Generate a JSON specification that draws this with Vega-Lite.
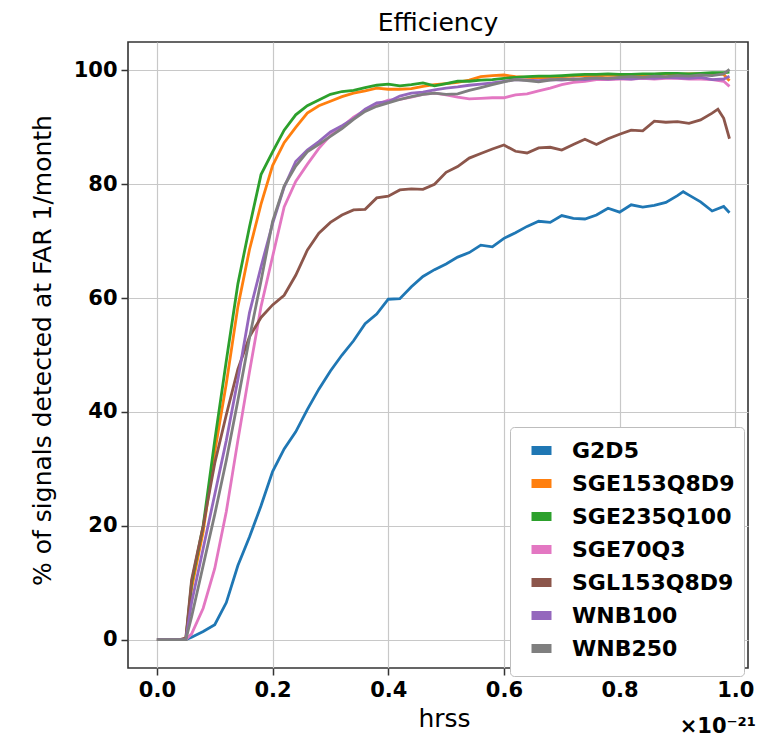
{
  "$schema": "https://vega.github.io/schema/vega-lite/v6.json",
  "width": 620,
  "height": 626,
  "autosize": {"type": "none"},
  "padding": {"left": 128, "top": 42, "right": 28, "bottom": 70},
  "background": "white",
  "title": {"text": "Efficiency", "fontSize": 25, "fontWeight": "normal", "font": "DejaVu Sans", "color": "#000", "baseline": "alphabetic", "offset": -14, "anchor": "middle"},
  "config": {
    "font": "DejaVu Sans",
    "view": {"stroke": "#333333", "strokeWidth": 1.6},
    "axis": {
      "domain": false,
      "grid": true,
      "gridColor": "#c8c8c8",
      "gridWidth": 1.2,
      "tickColor": "#333333",
      "tickWidth": 1.5,
      "tickSize": 7,
      "labelFontSize": 21,
      "labelFontWeight": "bold",
      "labelColor": "#000000",
      "labelPadding": 4,
      "titleFontSize": 25,
      "titleFontWeight": "normal",
      "titleColor": "#000000"
    }
  },
  "layer": [
    {
      "data": {"values": [
{"series":"G2D5","hrss":0,"pct":0},{"series":"G2D5","hrss":0.02,"pct":0},{"series":"G2D5","hrss":0.04,"pct":0},{"series":"G2D5","hrss":0.05,"pct":0},{"series":"G2D5","hrss":0.06,"pct":0.4},{"series":"G2D5","hrss":0.08,"pct":1.4},{"series":"G2D5","hrss":0.10,"pct":2.6},{"series":"G2D5","hrss":0.12,"pct":6.5},{"series":"G2D5","hrss":0.14,"pct":13},{"series":"G2D5","hrss":0.16,"pct":18},{"series":"G2D5","hrss":0.18,"pct":23.5},{"series":"G2D5","hrss":0.20,"pct":29.5},{"series":"G2D5","hrss":0.22,"pct":33.5},{"series":"G2D5","hrss":0.24,"pct":36.5},{"series":"G2D5","hrss":0.26,"pct":40.4},{"series":"G2D5","hrss":0.28,"pct":44},{"series":"G2D5","hrss":0.30,"pct":47.2},{"series":"G2D5","hrss":0.32,"pct":50},{"series":"G2D5","hrss":0.34,"pct":52.5},{"series":"G2D5","hrss":0.36,"pct":55.5},{"series":"G2D5","hrss":0.38,"pct":57.2},{"series":"G2D5","hrss":0.40,"pct":59.8},{"series":"G2D5","hrss":0.42,"pct":59.9},{"series":"G2D5","hrss":0.44,"pct":62},{"series":"G2D5","hrss":0.46,"pct":63.8},{"series":"G2D5","hrss":0.48,"pct":65},{"series":"G2D5","hrss":0.50,"pct":66},{"series":"G2D5","hrss":0.52,"pct":67.2},{"series":"G2D5","hrss":0.54,"pct":68},{"series":"G2D5","hrss":0.56,"pct":69.3},{"series":"G2D5","hrss":0.58,"pct":69},{"series":"G2D5","hrss":0.60,"pct":70.5},{"series":"G2D5","hrss":0.62,"pct":71.5},{"series":"G2D5","hrss":0.64,"pct":72.6},{"series":"G2D5","hrss":0.66,"pct":73.5},{"series":"G2D5","hrss":0.68,"pct":73.3},{"series":"G2D5","hrss":0.70,"pct":74.5},{"series":"G2D5","hrss":0.72,"pct":74},{"series":"G2D5","hrss":0.74,"pct":73.9},{"series":"G2D5","hrss":0.76,"pct":74.6},{"series":"G2D5","hrss":0.78,"pct":75.8},{"series":"G2D5","hrss":0.80,"pct":75.1},{"series":"G2D5","hrss":0.82,"pct":76.4},{"series":"G2D5","hrss":0.84,"pct":76},{"series":"G2D5","hrss":0.86,"pct":76.3},{"series":"G2D5","hrss":0.88,"pct":76.8},{"series":"G2D5","hrss":0.90,"pct":78},{"series":"G2D5","hrss":0.91,"pct":78.7},{"series":"G2D5","hrss":0.92,"pct":78.1},{"series":"G2D5","hrss":0.94,"pct":76.9},{"series":"G2D5","hrss":0.96,"pct":75.3},{"series":"G2D5","hrss":0.98,"pct":76.1},{"series":"G2D5","hrss":0.99,"pct":75},
{"series":"SGE153Q8D9","hrss":0,"pct":0},{"series":"SGE153Q8D9","hrss":0.02,"pct":0},{"series":"SGE153Q8D9","hrss":0.04,"pct":0},{"series":"SGE153Q8D9","hrss":0.05,"pct":0},{"series":"SGE153Q8D9","hrss":0.06,"pct":9},{"series":"SGE153Q8D9","hrss":0.08,"pct":19},{"series":"SGE153Q8D9","hrss":0.10,"pct":33},{"series":"SGE153Q8D9","hrss":0.12,"pct":45},{"series":"SGE153Q8D9","hrss":0.14,"pct":58.5},{"series":"SGE153Q8D9","hrss":0.16,"pct":68.5},{"series":"SGE153Q8D9","hrss":0.18,"pct":76.5},{"series":"SGE153Q8D9","hrss":0.20,"pct":83.3},{"series":"SGE153Q8D9","hrss":0.22,"pct":87.3},{"series":"SGE153Q8D9","hrss":0.24,"pct":90},{"series":"SGE153Q8D9","hrss":0.26,"pct":92.5},{"series":"SGE153Q8D9","hrss":0.28,"pct":93.8},{"series":"SGE153Q8D9","hrss":0.30,"pct":94.6},{"series":"SGE153Q8D9","hrss":0.32,"pct":95.4},{"series":"SGE153Q8D9","hrss":0.34,"pct":96},{"series":"SGE153Q8D9","hrss":0.36,"pct":96.4},{"series":"SGE153Q8D9","hrss":0.38,"pct":96.9},{"series":"SGE153Q8D9","hrss":0.40,"pct":96.7},{"series":"SGE153Q8D9","hrss":0.42,"pct":96.7},{"series":"SGE153Q8D9","hrss":0.44,"pct":96.8},{"series":"SGE153Q8D9","hrss":0.46,"pct":97.2},{"series":"SGE153Q8D9","hrss":0.48,"pct":97.5},{"series":"SGE153Q8D9","hrss":0.50,"pct":97.7},{"series":"SGE153Q8D9","hrss":0.52,"pct":97.9},{"series":"SGE153Q8D9","hrss":0.54,"pct":98.3},{"series":"SGE153Q8D9","hrss":0.56,"pct":98.9},{"series":"SGE153Q8D9","hrss":0.58,"pct":99.1},{"series":"SGE153Q8D9","hrss":0.60,"pct":99.2},{"series":"SGE153Q8D9","hrss":0.62,"pct":98.9},{"series":"SGE153Q8D9","hrss":0.64,"pct":98.8},{"series":"SGE153Q8D9","hrss":0.66,"pct":98.7},{"series":"SGE153Q8D9","hrss":0.68,"pct":98.7},{"series":"SGE153Q8D9","hrss":0.70,"pct":98.9},{"series":"SGE153Q8D9","hrss":0.72,"pct":99},{"series":"SGE153Q8D9","hrss":0.74,"pct":99.1},{"series":"SGE153Q8D9","hrss":0.76,"pct":99},{"series":"SGE153Q8D9","hrss":0.78,"pct":99.2},{"series":"SGE153Q8D9","hrss":0.80,"pct":99.1},{"series":"SGE153Q8D9","hrss":0.82,"pct":99.3},{"series":"SGE153Q8D9","hrss":0.84,"pct":99.2},{"series":"SGE153Q8D9","hrss":0.86,"pct":99.3},{"series":"SGE153Q8D9","hrss":0.88,"pct":99.4},{"series":"SGE153Q8D9","hrss":0.90,"pct":99.3},{"series":"SGE153Q8D9","hrss":0.92,"pct":99.4},{"series":"SGE153Q8D9","hrss":0.94,"pct":99.4},{"series":"SGE153Q8D9","hrss":0.96,"pct":99.5},{"series":"SGE153Q8D9","hrss":0.98,"pct":99.3},{"series":"SGE153Q8D9","hrss":0.99,"pct":98.2},
{"series":"SGE235Q100","hrss":0,"pct":0},{"series":"SGE235Q100","hrss":0.02,"pct":0},{"series":"SGE235Q100","hrss":0.04,"pct":0},{"series":"SGE235Q100","hrss":0.05,"pct":0},{"series":"SGE235Q100","hrss":0.06,"pct":10},{"series":"SGE235Q100","hrss":0.08,"pct":20},{"series":"SGE235Q100","hrss":0.10,"pct":35},{"series":"SGE235Q100","hrss":0.12,"pct":49},{"series":"SGE235Q100","hrss":0.14,"pct":62.5},{"series":"SGE235Q100","hrss":0.16,"pct":72.5},{"series":"SGE235Q100","hrss":0.18,"pct":81.7},{"series":"SGE235Q100","hrss":0.20,"pct":85.7},{"series":"SGE235Q100","hrss":0.22,"pct":89.5},{"series":"SGE235Q100","hrss":0.24,"pct":92.2},{"series":"SGE235Q100","hrss":0.26,"pct":93.8},{"series":"SGE235Q100","hrss":0.28,"pct":94.8},{"series":"SGE235Q100","hrss":0.30,"pct":95.8},{"series":"SGE235Q100","hrss":0.32,"pct":96.3},{"series":"SGE235Q100","hrss":0.34,"pct":96.5},{"series":"SGE235Q100","hrss":0.36,"pct":97},{"series":"SGE235Q100","hrss":0.38,"pct":97.4},{"series":"SGE235Q100","hrss":0.40,"pct":97.6},{"series":"SGE235Q100","hrss":0.42,"pct":97.3},{"series":"SGE235Q100","hrss":0.44,"pct":97.5},{"series":"SGE235Q100","hrss":0.46,"pct":97.8},{"series":"SGE235Q100","hrss":0.48,"pct":97.3},{"series":"SGE235Q100","hrss":0.50,"pct":97.7},{"series":"SGE235Q100","hrss":0.52,"pct":98.1},{"series":"SGE235Q100","hrss":0.54,"pct":98.1},{"series":"SGE235Q100","hrss":0.56,"pct":98.3},{"series":"SGE235Q100","hrss":0.58,"pct":98.4},{"series":"SGE235Q100","hrss":0.60,"pct":98.6},{"series":"SGE235Q100","hrss":0.62,"pct":98.8},{"series":"SGE235Q100","hrss":0.64,"pct":98.9},{"series":"SGE235Q100","hrss":0.66,"pct":99},{"series":"SGE235Q100","hrss":0.68,"pct":99},{"series":"SGE235Q100","hrss":0.70,"pct":99.1},{"series":"SGE235Q100","hrss":0.72,"pct":99.2},{"series":"SGE235Q100","hrss":0.74,"pct":99.3},{"series":"SGE235Q100","hrss":0.76,"pct":99.3},{"series":"SGE235Q100","hrss":0.78,"pct":99.4},{"series":"SGE235Q100","hrss":0.80,"pct":99.3},{"series":"SGE235Q100","hrss":0.82,"pct":99.3},{"series":"SGE235Q100","hrss":0.84,"pct":99.4},{"series":"SGE235Q100","hrss":0.86,"pct":99.4},{"series":"SGE235Q100","hrss":0.88,"pct":99.5},{"series":"SGE235Q100","hrss":0.90,"pct":99.5},{"series":"SGE235Q100","hrss":0.92,"pct":99.4},{"series":"SGE235Q100","hrss":0.94,"pct":99.5},{"series":"SGE235Q100","hrss":0.96,"pct":99.6},{"series":"SGE235Q100","hrss":0.98,"pct":99.6},{"series":"SGE235Q100","hrss":0.99,"pct":99.7},
{"series":"SGE70Q3","hrss":0,"pct":0},{"series":"SGE70Q3","hrss":0.02,"pct":0},{"series":"SGE70Q3","hrss":0.04,"pct":0},{"series":"SGE70Q3","hrss":0.05,"pct":0},{"series":"SGE70Q3","hrss":0.06,"pct":1},{"series":"SGE70Q3","hrss":0.08,"pct":5.5},{"series":"SGE70Q3","hrss":0.10,"pct":12.5},{"series":"SGE70Q3","hrss":0.12,"pct":22.5},{"series":"SGE70Q3","hrss":0.14,"pct":35},{"series":"SGE70Q3","hrss":0.16,"pct":47},{"series":"SGE70Q3","hrss":0.18,"pct":58.5},{"series":"SGE70Q3","hrss":0.20,"pct":67.3},{"series":"SGE70Q3","hrss":0.22,"pct":76},{"series":"SGE70Q3","hrss":0.24,"pct":80.5},{"series":"SGE70Q3","hrss":0.26,"pct":83.5},{"series":"SGE70Q3","hrss":0.28,"pct":86.3},{"series":"SGE70Q3","hrss":0.30,"pct":88.6},{"series":"SGE70Q3","hrss":0.32,"pct":90.1},{"series":"SGE70Q3","hrss":0.34,"pct":91.8},{"series":"SGE70Q3","hrss":0.36,"pct":93},{"series":"SGE70Q3","hrss":0.38,"pct":94},{"series":"SGE70Q3","hrss":0.40,"pct":94.8},{"series":"SGE70Q3","hrss":0.42,"pct":94.9},{"series":"SGE70Q3","hrss":0.44,"pct":95.3},{"series":"SGE70Q3","hrss":0.46,"pct":95.8},{"series":"SGE70Q3","hrss":0.48,"pct":96},{"series":"SGE70Q3","hrss":0.50,"pct":95.7},{"series":"SGE70Q3","hrss":0.52,"pct":95.3},{"series":"SGE70Q3","hrss":0.54,"pct":95},{"series":"SGE70Q3","hrss":0.56,"pct":95.1},{"series":"SGE70Q3","hrss":0.58,"pct":95.2},{"series":"SGE70Q3","hrss":0.60,"pct":95.2},{"series":"SGE70Q3","hrss":0.62,"pct":95.7},{"series":"SGE70Q3","hrss":0.64,"pct":95.9},{"series":"SGE70Q3","hrss":0.66,"pct":96.4},{"series":"SGE70Q3","hrss":0.68,"pct":96.9},{"series":"SGE70Q3","hrss":0.70,"pct":97.5},{"series":"SGE70Q3","hrss":0.72,"pct":97.9},{"series":"SGE70Q3","hrss":0.74,"pct":98.1},{"series":"SGE70Q3","hrss":0.76,"pct":98.4},{"series":"SGE70Q3","hrss":0.78,"pct":98.4},{"series":"SGE70Q3","hrss":0.80,"pct":98.5},{"series":"SGE70Q3","hrss":0.82,"pct":98.5},{"series":"SGE70Q3","hrss":0.84,"pct":98.6},{"series":"SGE70Q3","hrss":0.86,"pct":98.5},{"series":"SGE70Q3","hrss":0.88,"pct":98.6},{"series":"SGE70Q3","hrss":0.90,"pct":98.6},{"series":"SGE70Q3","hrss":0.92,"pct":98.5},{"series":"SGE70Q3","hrss":0.94,"pct":98.5},{"series":"SGE70Q3","hrss":0.96,"pct":98.4},{"series":"SGE70Q3","hrss":0.98,"pct":98.1},{"series":"SGE70Q3","hrss":0.99,"pct":97.2},
{"series":"SGL153Q8D9","hrss":0,"pct":0},{"series":"SGL153Q8D9","hrss":0.02,"pct":0},{"series":"SGL153Q8D9","hrss":0.04,"pct":0},{"series":"SGL153Q8D9","hrss":0.05,"pct":0.3},{"series":"SGL153Q8D9","hrss":0.06,"pct":10.5},{"series":"SGL153Q8D9","hrss":0.08,"pct":20},{"series":"SGL153Q8D9","hrss":0.10,"pct":31},{"series":"SGL153Q8D9","hrss":0.12,"pct":39.5},{"series":"SGL153Q8D9","hrss":0.14,"pct":47.5},{"series":"SGL153Q8D9","hrss":0.16,"pct":53.2},{"series":"SGL153Q8D9","hrss":0.18,"pct":56.6},{"series":"SGL153Q8D9","hrss":0.20,"pct":58.8},{"series":"SGL153Q8D9","hrss":0.22,"pct":60.5},{"series":"SGL153Q8D9","hrss":0.24,"pct":64},{"series":"SGL153Q8D9","hrss":0.26,"pct":68.4},{"series":"SGL153Q8D9","hrss":0.28,"pct":71.4},{"series":"SGL153Q8D9","hrss":0.30,"pct":73.3},{"series":"SGL153Q8D9","hrss":0.32,"pct":74.6},{"series":"SGL153Q8D9","hrss":0.34,"pct":75.5},{"series":"SGL153Q8D9","hrss":0.36,"pct":75.6},{"series":"SGL153Q8D9","hrss":0.38,"pct":77.6},{"series":"SGL153Q8D9","hrss":0.40,"pct":77.9},{"series":"SGL153Q8D9","hrss":0.42,"pct":79},{"series":"SGL153Q8D9","hrss":0.44,"pct":79.2},{"series":"SGL153Q8D9","hrss":0.46,"pct":79.1},{"series":"SGL153Q8D9","hrss":0.48,"pct":80},{"series":"SGL153Q8D9","hrss":0.50,"pct":82.1},{"series":"SGL153Q8D9","hrss":0.52,"pct":83.1},{"series":"SGL153Q8D9","hrss":0.54,"pct":84.6},{"series":"SGL153Q8D9","hrss":0.56,"pct":85.4},{"series":"SGL153Q8D9","hrss":0.58,"pct":86.2},{"series":"SGL153Q8D9","hrss":0.60,"pct":86.9},{"series":"SGL153Q8D9","hrss":0.62,"pct":85.8},{"series":"SGL153Q8D9","hrss":0.64,"pct":85.5},{"series":"SGL153Q8D9","hrss":0.66,"pct":86.4},{"series":"SGL153Q8D9","hrss":0.68,"pct":86.5},{"series":"SGL153Q8D9","hrss":0.70,"pct":86},{"series":"SGL153Q8D9","hrss":0.72,"pct":87},{"series":"SGL153Q8D9","hrss":0.74,"pct":87.9},{"series":"SGL153Q8D9","hrss":0.76,"pct":87},{"series":"SGL153Q8D9","hrss":0.78,"pct":88},{"series":"SGL153Q8D9","hrss":0.80,"pct":88.8},{"series":"SGL153Q8D9","hrss":0.82,"pct":89.5},{"series":"SGL153Q8D9","hrss":0.84,"pct":89.4},{"series":"SGL153Q8D9","hrss":0.86,"pct":91.1},{"series":"SGL153Q8D9","hrss":0.88,"pct":90.9},{"series":"SGL153Q8D9","hrss":0.90,"pct":91},{"series":"SGL153Q8D9","hrss":0.92,"pct":90.7},{"series":"SGL153Q8D9","hrss":0.94,"pct":91.3},{"series":"SGL153Q8D9","hrss":0.96,"pct":92.5},{"series":"SGL153Q8D9","hrss":0.97,"pct":93.2},{"series":"SGL153Q8D9","hrss":0.98,"pct":91.6},{"series":"SGL153Q8D9","hrss":0.99,"pct":88},
{"series":"WNB100","hrss":0,"pct":0},{"series":"WNB100","hrss":0.02,"pct":0},{"series":"WNB100","hrss":0.04,"pct":0},{"series":"WNB100","hrss":0.05,"pct":0},{"series":"WNB100","hrss":0.06,"pct":6.5},{"series":"WNB100","hrss":0.08,"pct":16},{"series":"WNB100","hrss":0.10,"pct":25.5},{"series":"WNB100","hrss":0.12,"pct":35},{"series":"WNB100","hrss":0.14,"pct":45.7},{"series":"WNB100","hrss":0.16,"pct":57.4},{"series":"WNB100","hrss":0.18,"pct":65.5},{"series":"WNB100","hrss":0.20,"pct":73.1},{"series":"WNB100","hrss":0.22,"pct":79.5},{"series":"WNB100","hrss":0.24,"pct":84},{"series":"WNB100","hrss":0.26,"pct":86},{"series":"WNB100","hrss":0.28,"pct":87.5},{"series":"WNB100","hrss":0.30,"pct":89.2},{"series":"WNB100","hrss":0.32,"pct":90.3},{"series":"WNB100","hrss":0.34,"pct":91.5},{"series":"WNB100","hrss":0.36,"pct":93.2},{"series":"WNB100","hrss":0.38,"pct":94.3},{"series":"WNB100","hrss":0.40,"pct":94.5},{"series":"WNB100","hrss":0.42,"pct":95.5},{"series":"WNB100","hrss":0.44,"pct":96},{"series":"WNB100","hrss":0.46,"pct":96.2},{"series":"WNB100","hrss":0.48,"pct":96.6},{"series":"WNB100","hrss":0.50,"pct":96.9},{"series":"WNB100","hrss":0.52,"pct":97.1},{"series":"WNB100","hrss":0.54,"pct":97.4},{"series":"WNB100","hrss":0.56,"pct":97.6},{"series":"WNB100","hrss":0.58,"pct":97.8},{"series":"WNB100","hrss":0.60,"pct":98.1},{"series":"WNB100","hrss":0.62,"pct":98.4},{"series":"WNB100","hrss":0.64,"pct":98.3},{"series":"WNB100","hrss":0.66,"pct":98.2},{"series":"WNB100","hrss":0.68,"pct":98.4},{"series":"WNB100","hrss":0.70,"pct":98.3},{"series":"WNB100","hrss":0.72,"pct":98.5},{"series":"WNB100","hrss":0.74,"pct":98.4},{"series":"WNB100","hrss":0.76,"pct":98.6},{"series":"WNB100","hrss":0.78,"pct":98.5},{"series":"WNB100","hrss":0.80,"pct":98.6},{"series":"WNB100","hrss":0.82,"pct":98.5},{"series":"WNB100","hrss":0.84,"pct":98.7},{"series":"WNB100","hrss":0.86,"pct":98.6},{"series":"WNB100","hrss":0.88,"pct":98.8},{"series":"WNB100","hrss":0.90,"pct":98.7},{"series":"WNB100","hrss":0.92,"pct":98.6},{"series":"WNB100","hrss":0.94,"pct":98.8},{"series":"WNB100","hrss":0.96,"pct":98.4},{"series":"WNB100","hrss":0.98,"pct":98.5},{"series":"WNB100","hrss":0.99,"pct":99},
{"series":"WNB250","hrss":0,"pct":0},{"series":"WNB250","hrss":0.02,"pct":0},{"series":"WNB250","hrss":0.04,"pct":0},{"series":"WNB250","hrss":0.05,"pct":0},{"series":"WNB250","hrss":0.06,"pct":4},{"series":"WNB250","hrss":0.08,"pct":13},{"series":"WNB250","hrss":0.10,"pct":22},{"series":"WNB250","hrss":0.12,"pct":31.5},{"series":"WNB250","hrss":0.14,"pct":42},{"series":"WNB250","hrss":0.16,"pct":53},{"series":"WNB250","hrss":0.18,"pct":63},{"series":"WNB250","hrss":0.20,"pct":73.5},{"series":"WNB250","hrss":0.22,"pct":79.7},{"series":"WNB250","hrss":0.24,"pct":83.2},{"series":"WNB250","hrss":0.26,"pct":85.7},{"series":"WNB250","hrss":0.28,"pct":87},{"series":"WNB250","hrss":0.30,"pct":88.4},{"series":"WNB250","hrss":0.32,"pct":89.8},{"series":"WNB250","hrss":0.34,"pct":91.4},{"series":"WNB250","hrss":0.36,"pct":92.8},{"series":"WNB250","hrss":0.38,"pct":93.7},{"series":"WNB250","hrss":0.40,"pct":94.3},{"series":"WNB250","hrss":0.42,"pct":94.9},{"series":"WNB250","hrss":0.44,"pct":95.4},{"series":"WNB250","hrss":0.46,"pct":95.8},{"series":"WNB250","hrss":0.48,"pct":96},{"series":"WNB250","hrss":0.50,"pct":95.8},{"series":"WNB250","hrss":0.52,"pct":95.9},{"series":"WNB250","hrss":0.54,"pct":96.5},{"series":"WNB250","hrss":0.56,"pct":97},{"series":"WNB250","hrss":0.58,"pct":97.5},{"series":"WNB250","hrss":0.60,"pct":98},{"series":"WNB250","hrss":0.62,"pct":98.4},{"series":"WNB250","hrss":0.64,"pct":98.2},{"series":"WNB250","hrss":0.66,"pct":98},{"series":"WNB250","hrss":0.68,"pct":98.3},{"series":"WNB250","hrss":0.70,"pct":98.5},{"series":"WNB250","hrss":0.72,"pct":98.4},{"series":"WNB250","hrss":0.74,"pct":98.6},{"series":"WNB250","hrss":0.76,"pct":98.7},{"series":"WNB250","hrss":0.78,"pct":98.6},{"series":"WNB250","hrss":0.80,"pct":98.8},{"series":"WNB250","hrss":0.82,"pct":98.9},{"series":"WNB250","hrss":0.84,"pct":98.8},{"series":"WNB250","hrss":0.86,"pct":99},{"series":"WNB250","hrss":0.88,"pct":98.9},{"series":"WNB250","hrss":0.90,"pct":99.1},{"series":"WNB250","hrss":0.92,"pct":99},{"series":"WNB250","hrss":0.94,"pct":99.2},{"series":"WNB250","hrss":0.96,"pct":99.1},{"series":"WNB250","hrss":0.98,"pct":99.4},{"series":"WNB250","hrss":0.99,"pct":100.2}
      ]},
      "mark": {"type": "line", "strokeWidth": 2.8, "clip": true},
      "encoding": {
        "x": {"field": "hrss", "type": "quantitative",
              "scale": {"domain": [-0.05, 1.022], "nice": false, "zero": false},
              "axis": {"title": "hrss", "values": [0, 0.2, 0.4, 0.6, 0.8, 1.0], "format": ".1f",
                       "titleX": 316, "titleY": 58, "titleBaseline": "alphabetic", "titleAnchor": null}},
        "y": {"field": "pct", "type": "quantitative",
              "scale": {"domain": [-5, 105], "nice": false, "zero": false},
              "axis": {"title": "% of signals detected at FAR 1/month", "values": [0, 20, 40, 60, 80, 100],
                       "titleX": -86, "titleY": 308, "titleAngle": -90, "titleAlign": "center", "titleBaseline": "middle"}},
        "color": {"field": "series", "type": "nominal",
                  "scale": {"domain": ["G2D5","SGE153Q8D9","SGE235Q100","SGE70Q3","SGL153Q8D9","WNB100","WNB250"],
                            "range": ["#1f77b4","#ff7f0e","#2ca02c","#e377c2","#8c564b","#9467bd","#7f7f7f"]},
                  "legend": {"title": null, "orient": "none", "legendX": 382, "legendY": 385,
                             "fillColor": "white", "strokeColor": "#bdbdbd", "cornerRadius": 4, "padding": 9,
                             "labelFont": "DejaVu Sans", "labelFontWeight": "bold", "labelFontSize": 22, "labelColor": "#000000", "labelLimit": 400,
                             "symbolType": "stroke", "symbolSize": 400, "symbolStrokeWidth": 9, "symbolOffset": 8,
                             "labelOffset": 16, "rowPadding": -6.8}}
      }
    },
    {
      "data": {"values": [{"label": "×10⁻²¹", "hrss": 1.022, "pct": -16.4}]},
      "mark": {"type": "text", "align": "right", "baseline": "alphabetic", "fontSize": 21, "fontWeight": "bold", "font": "DejaVu Sans", "color": "#000000", "dx": 8},
      "encoding": {
        "x": {"field": "hrss", "type": "quantitative"},
        "y": {"field": "pct", "type": "quantitative"},
        "text": {"field": "label"}
      }
    }
  ]
}
